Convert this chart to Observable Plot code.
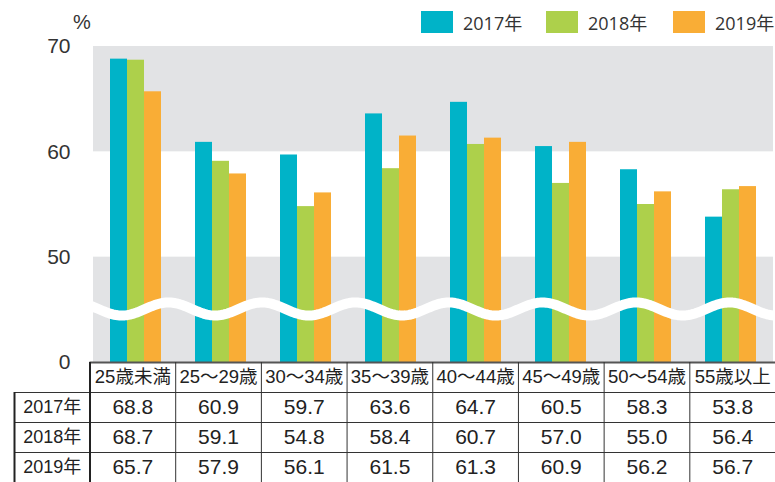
<!DOCTYPE html>
<html>
<head>
<meta charset="utf-8">
<script src="https://cdn.jsdelivr.net/npm/d3@7"></script>
<script src="https://cdn.jsdelivr.net/npm/@observablehq/plot@0.6"></script>
<style>
  html, body { margin: 0; padding: 0; background: #fff; }
  #wrap { position: relative; width: 775px; height: 482px; overflow: hidden; font-family: "Liberation Sans", "Noto Sans CJK JP", sans-serif; color: #333; }
  #wrap svg { position: absolute; left: 0; background: transparent; }
  .lg { position: absolute; top: 11px; height: 22px; display: flex; align-items: center; font-family: "Open Sans", "Noto Sans CJK JP", sans-serif; font-size: 18px; color: #333; white-space: nowrap; }
  .sw { width: 32px; height: 22px; margin-right: 10px; }
  #pct { position: absolute; left: 73px; top: 11px; font-size: 20px; color: #333; }
</style>
</head>
<body>
<div id="wrap"></div>
<script>
// ---- data ----
const categories = ["25歳未満", "25～29歳", "30～34歳", "35～39歳", "40～44歳", "45～49歳", "50～54歳", "55歳以上"];
const years = ["2017年", "2018年", "2019年"];
const values2017 = [68.8, 60.9, 59.7, 63.6, 64.7, 60.5, 58.3, 53.8];
const values2018 = [68.7, 59.1, 54.8, 58.4, 60.7, 57.0, 55.0, 56.4];
const values2019 = [65.7, 57.9, 56.1, 61.5, 61.3, 60.9, 56.2, 56.7];
const yTicks = [40, 50, 60, 70];          // 40 marks the broken-axis zero
const yTickLabels = ["0", "50", "60", "70"];
const colors = ["#00b3c8", "#add04b", "#f9ad36"];

const series = [values2017, values2018, values2019];
const rows = [];
years.forEach((yr, j) => categories.forEach((c, i) => rows.push({cat: c, ci: i, year: yr, yj: j, value: series[j][i]})));
const bands = [{lo: 40, hi: 50}, {lo: 60, hi: 70}];
const BASE = 40;

const FONT = "'Liberation Sans', 'Noto Sans CJK JP', sans-serif";
const wrap = document.getElementById("wrap");

// ---- chart ----
const chart = Plot.plot({
  width: 775, height: 482,
  marginTop: 46, marginBottom: 120, marginLeft: 90, marginRight: 0,
  style: {fontFamily: FONT, fontSize: "21px", color: "#333", background: "transparent"},
  fx: {domain: categories, padding: 0, axis: null},
  x: {domain: years, paddingInner: 0, paddingOuter: 0.9, axis: null},
  y: {domain: [40, 70], ticks: yTicks, tickFormat: d => yTickLabels[yTicks.indexOf(d)], tickSize: 0, tickPadding: 23, label: null},
  color: {domain: years, range: colors},
  marks: [
    Plot.rect(bands, {y1: "lo", y2: "hi", fill: "#e2e3e5"}),
    Plot.rectY(rows, {fx: "cat", x: "year", y1: BASE, y2: "value", fill: "year", insetLeft: 0, insetRight: 0})
  ]
});
chart.style.top = "0px";
wrap.appendChild(chart);

// ---- wave break overlay ----
const waveX = d3.range(0, 8.001, 0.02);
const wave = waveX.map(u => ({u, v: 45.08 + 0.62 * Math.cos(2 * Math.PI * (u - 0.911) / 1.092)}));
const overlay = Plot.plot({
  width: 775, height: 482,
  marginTop: 46, marginBottom: 120, marginLeft: 90, marginRight: 0,
  style: {background: "transparent"},
  x: {domain: [0, 8], axis: null},
  y: {domain: [40, 70], axis: null},
  marks: [
    Plot.line(wave, {x: "u", y: "v", stroke: "white", strokeWidth: 10})
  ]
});
overlay.style.top = "0px";
wrap.appendChild(overlay);

// ---- data table ----
const colIdx = categories.map((c, i) => i);
const table = Plot.plot({
  width: 775, height: 122,
  marginTop: 0, marginBottom: 0, marginLeft: 14, marginRight: 0,
  style: {fontFamily: FONT, color: "#222", background: "transparent"},
  x: {type: "linear", domain: [-1, 0, 8], range: [14, 89.5, 775], axis: null},
  y: {type: "linear", domain: [0, 4], range: [2, 122], axis: null},
  marks: [
    Plot.ruleY([0], {x1: 0, x2: 8, stroke: "#555", strokeWidth: 2}),
    Plot.ruleY([1, 2, 3], {x1: -1, x2: 8, stroke: "#333", strokeWidth: 1}),
    Plot.ruleX([-1], {y1: 1, y2: 4, stroke: "#222", strokeWidth: 2}),
    Plot.ruleX([0], {y1: 0, y2: 4, stroke: "#222", strokeWidth: 2}),
    Plot.ruleX(colIdx.slice(1), {x: i => i, y1: 0, y2: 4, stroke: "#333", strokeWidth: 1}),
    Plot.text(categories, {x: (d, i) => i + 0.5, y: 0.5, text: d => d, fontSize: 18.5, fill: "#222"}),
    Plot.text(years, {x: -0.5, y: (d, j) => j + 1.5, text: d => d, fontSize: 18, fill: "#222"}),
    Plot.text(rows, {x: d => d.ci + 0.5, y: d => d.yj + 1.5, text: d => d.value.toFixed(1), fontSize: 21, fill: "#222"})
  ]
});
table.style.top = "360px";
wrap.appendChild(table);

// ---- legend & unit ----
const pct = document.createElement("div");
pct.id = "pct"; pct.textContent = "%";
wrap.appendChild(pct);
const lgLeft = [421, 546, 673];
years.forEach((yr, j) => {
  const item = document.createElement("div");
  item.className = "lg";
  item.style.left = lgLeft[j] + "px";
  const sw = document.createElement("span");
  sw.className = "sw"; sw.style.background = colors[j];
  const t = document.createElement("span");
  t.textContent = yr;
  item.appendChild(sw); item.appendChild(t);
  wrap.appendChild(item);
});
</script>
</body>
</html>
